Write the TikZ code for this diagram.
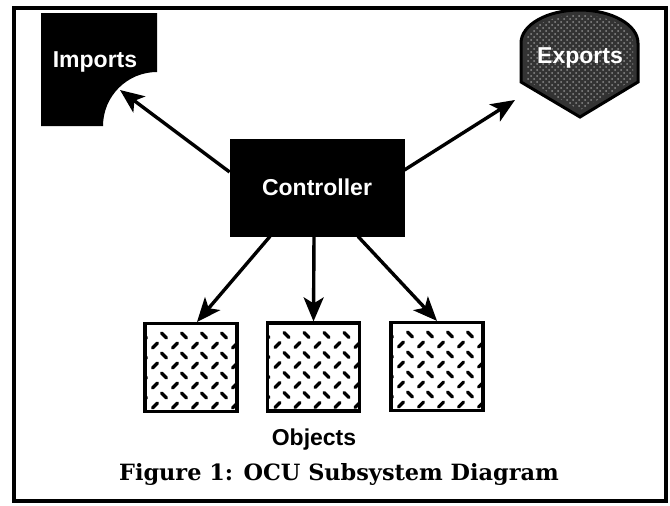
\documentclass[tikz,border=0pt]{standalone}
\usepackage{fontspec}
\usetikzlibrary{arrows.meta,patterns}
\newfontfamily\labfont{Liberation Sans}
\newfontfamily\capfont{DejaVu Serif}

\tikzset{
  lbl/.style={font=\labfont\bfseries\fontsize{11.5}{13}\selectfont, inner sep=0pt},
  whitelbl/.style={lbl, text=white},
  ctrlbox/.style={draw=black, fill=black, minimum width=87pt, minimum height=48.5pt, inner sep=0pt, text=white,
    font=\labfont\bfseries\fontsize{11.5}{13}\selectfont},
  hatch/.style={line width=1.6pt, line cap=round},
  objbox/.style={draw=black, line width=1.6pt, minimum width=46pt, minimum height=44pt, inner sep=0pt,
    path picture={
      \foreach \r in {1,...,9}{
        \pgfmathsetmacro{\yy}{2+10*\r}
        \ifodd\r
          \foreach \k in {0,...,5}{
            \draw[hatch] ([shift={(-3.5+20*\k,\yy-2.5)}]path picture bounding box.north west) -- ++(5,5);
          }
        \else
          \foreach \k in {0,...,5}{
            \draw[hatch] ([shift={(7.5+20*\k,\yy+2.5)}]path picture bounding box.north west) -- ++(5,-5);
          }
        \fi
      }
    }},
  arr/.style={line width=1.7pt, -{Stealth[length=12pt, width=10pt, inset=3pt]}},
}

\begin{document}
\begin{tikzpicture}[x=0.5pt, y=-0.5pt]
  \useasboundingbox (0,0) rectangle (670,505);

  % outer frame
  \draw[line width=2pt] (14,8) rectangle (666,501);

  % Imports: square with a quarter circle cut from the lower right corner
  \fill[black] (41,13) -- (157,13) -- (157,72) arc[start angle=270, end angle=180, radius=54] -- (41,126) -- cycle;
  \node[whitelbl] (imports) at (95,62) {Imports};
  \coordinate (impTip) at (120,90);

  % Exports: rounded top, pointed bottom, halftone fill
  \path[fill=black!80, draw=black, line width=1.5pt]
    (521,43) arc[start angle=180, end angle=360, x radius=58.5, y radius=33]
    -- (638,82) -- (580,117) -- (521,82) -- cycle;
  \path[pattern=crosshatch dots, pattern color=black!45]
    (526,43) arc[start angle=180, end angle=360, x radius=53.5, y radius=28]
    -- (633,80) -- (580,110) -- (526,80) -- cycle;
  \node[whitelbl] (exports) at (580,58) {Exports};
  \coordinate (expTip) at (515,100);

  % Controller
  \node[ctrlbox] (ctrl) at (317,187.5) {Controller};

  % objects
  \node[objbox] (o1) at (191,367.5) {};
  \node[objbox] (o2) at (313.5,367) {};
  \node[objbox] (o3) at (437,366.5) {};

  % connectors
  \draw[arr] ([yshift=7.75pt]ctrl.west) -- (impTip);
  \draw[arr] ([yshift=8.75pt]ctrl.east) -- (expTip);
  \draw[arr] ([xshift=-23.5pt]ctrl.south) -- ([xshift=3pt]o1.north);
  \draw[arr] ([xshift=-1.5pt]ctrl.south) -- (o2.north);
  \draw[arr] ([xshift=20.5pt]ctrl.south) -- (o3.north);

  % labels
  \node[lbl] (objects) at (314,440) {Objects};
  \node[font=\capfont\bfseries\fontsize{11.2}{13}\selectfont, inner sep=0pt] (caption) at (339,474) {Figure 1: OCU Subsystem Diagram};
\end{tikzpicture}
\end{document}
